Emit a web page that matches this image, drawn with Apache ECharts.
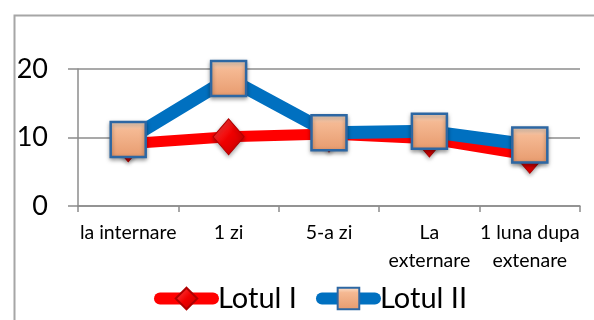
<!DOCTYPE html>
<html><head><meta charset="utf-8">
<script src="https://cdn.jsdelivr.net/npm/echarts@6/dist/echarts.min.js"></script>
<style>html,body{margin:0;padding:0;background:#fff}#c{width:594px;height:320px}</style>
</head><body><div id="c"></div>
<script>
const categories = ["la internare", "1 zi", "5-a zi", "La\nexternare", "1 luna dupa\nextenare"];
const lotulI = [9.1, 10.1, 10.5, 9.8, 7.4];
const lotulII = [9.7, 18.6, 10.7, 10.9, 8.9];
const seriesNames = ["Lotul I", "Lotul II"];

const FONT = "Lato";
const chart = echarts.init(document.getElementById('c'), null, {renderer: 'canvas'});
const squareFill = new echarts.graphic.LinearGradient(0, 0, 0, 1, [
  {offset: 0, color: '#fde6d4'}, {offset: 0.25, color: '#f5b993'}, {offset: 1, color: '#e79a6d'}
]);
const diamondFill = new echarts.graphic.LinearGradient(0, 0, 1, 1, [
  {offset: 0, color: '#ff5050'}, {offset: 0.5, color: '#f00000'}, {offset: 1, color: '#c00000'}
]);
chart.setOption({
  animation: false,
  graphic: [{
    type: 'rect', left: 12, top: 13, z: -1,
    shape: {x: 0, y: 0, width: 700, height: 400},
    style: {fill: 'none', stroke: '#a6a6a6', lineWidth: 2}
  }],
  grid: {left: 78, right: 14, top: 69, bottom: 114},
  xAxis: {
    type: 'category', data: categories, boundaryGap: true,
    axisLine: {lineStyle: {color: '#8c8c8c', width: 1.5}},
    axisTick: {show: true, length: 6, lineStyle: {color: '#8c8c8c', width: 1.5}},
    axisLabel: {color: '#000', fontFamily: FONT, fontSize: 19.5, lineHeight: 28, margin: 13, interval: 0}
  },
  yAxis: {
    type: 'value', min: 0, max: 20, interval: 10,
    axisLine: {show: true, lineStyle: {color: '#8c8c8c', width: 1.5}},
    axisTick: {show: true, length: 10, lineStyle: {color: '#8c8c8c', width: 1.5}},
    splitLine: {lineStyle: {color: '#8c8c8c', width: 1.5}},
    axisLabel: {color: '#000', fontFamily: FONT, fontSize: 27, margin: 30}
  },
  legend: {
    data: seriesNames, left: 154, top: 284, padding: 0, itemWidth: 53, itemHeight: 27, itemGap: 19,
    lineStyle: {width: 12, cap: 'round'},
    textStyle: {fontFamily: FONT, fontSize: 29, color: '#000'}
  },
  series: [{
    name: seriesNames[0], type: 'line', data: lotulI,
    symbol: 'diamond', symbolSize: [31, 36],
    lineStyle: {color: '#ff0000', width: 11},
    itemStyle: {color: diamondFill, borderColor: '#b00000', borderWidth: 1,
      shadowBlur: 4, shadowColor: 'rgba(0,0,0,0.35)', shadowOffsetY: 2}
  }, {
    name: seriesNames[1], type: 'line', data: lotulII,
    symbol: 'rect', symbolSize: 35,
    lineStyle: {color: '#0070c0', width: 13},
    itemStyle: {color: squareFill, borderColor: '#2d67a3', borderWidth: 2.5,
      shadowBlur: 4, shadowColor: 'rgba(0,0,0,0.35)', shadowOffsetY: 2}
  }]
});
</script></body></html>
